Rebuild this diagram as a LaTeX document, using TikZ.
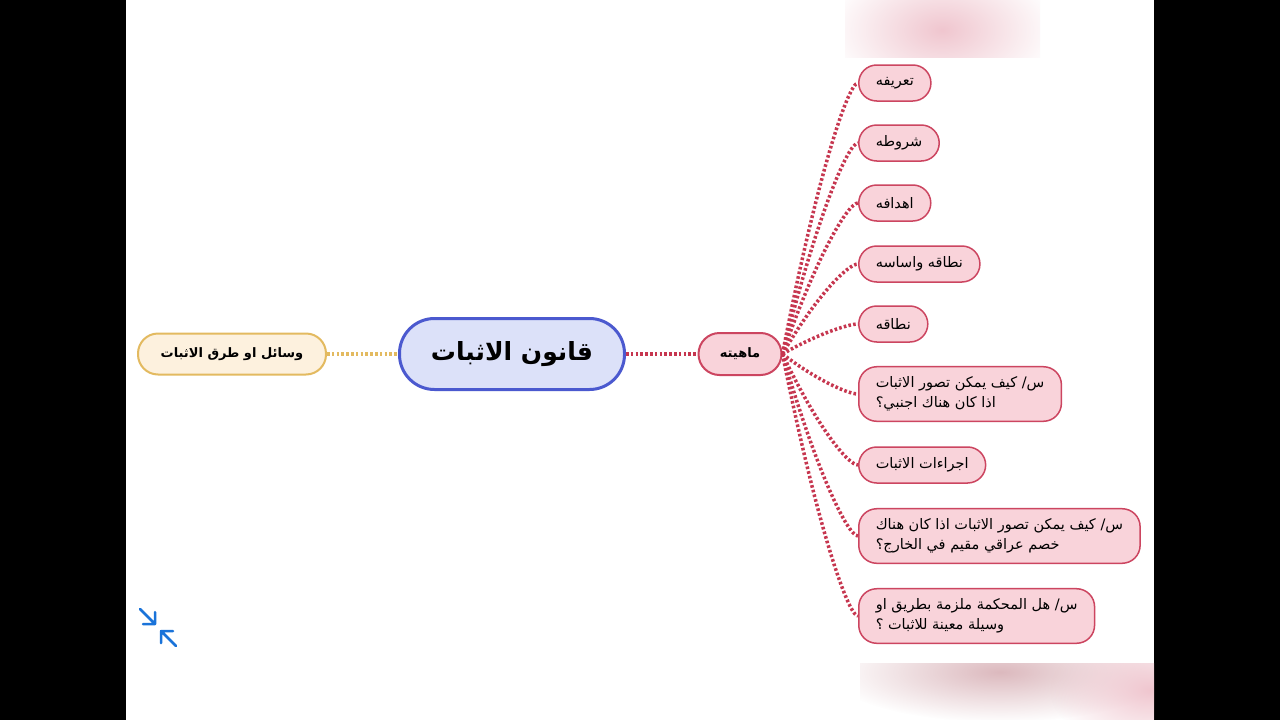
\documentclass[tikz,border=0pt]{standalone}
\usepackage{fontspec}
\usetikzlibrary{calc,fadings}
\newfontfamily\arabicfont[Script=Arabic]{DejaVu Sans}
\TeXXeTstate=1
\definecolor{hred}{HTML}{C6364F}
\definecolor{hpink}{HTML}{F9D3DA}
\definecolor{hpinkline}{HTML}{CC4560}
\definecolor{hblue}{HTML}{4B59CF}
\definecolor{hlav}{HTML}{DCE1F9}
\definecolor{hyellow}{HTML}{E3BA60}
\definecolor{hcream}{HTML}{FDF1DE}
\definecolor{hicon}{HTML}{1A73D9}
\definecolor{hblur}{HTML}{F0C6CF}
\definecolor{hblurb}{HTML}{DCB9BE}
\tikzfading[name=softblur, inner color=transparent!0, outer color=transparent!100]
\tikzset{
  topic/.style={draw=hpinkline, fill=hpink, line width=1.5pt, rounded corners=18pt,
    minimum height=36pt, inner xsep=17pt, inner ysep=10pt, align=left, anchor=west,
    font=\arabicfont\fontsize{14.5}{20}\selectfont},
  link/.style={hred, line width=3.5pt, dash pattern=on 2.6pt off 2.2pt},
}

\begin{document}
\begin{tikzpicture}[x=1pt, y=-1pt]
  % page and blurred corners
  \fill[black] (0,0) rectangle (1280,720);
  \fill[white] (126,0) rectangle (1154,720);
  \begin{scope}
    \clip (845,0) rectangle (1040,57);
    \fill[hblur, path fading=softblur] (942,30) ellipse [x radius=115, y radius=70];
  \end{scope}
  \begin{scope}
    \clip (860,663) rectangle (1154,720);
    \fill[hblurb, path fading=softblur] (1000,672) ellipse [x radius=170, y radius=50];
    \fill[hblur, path fading=softblur] (1150,690) ellipse [x radius=100, y radius=60];
  \end{scope}

  % central topic and its two branches
  \node[draw=hblue, fill=hlav, line width=3pt, rounded corners=35pt, minimum width=225pt,
    minimum height=71pt, font=\arabicfont\bfseries\fontsize{25}{30}\selectfont]
    (law) at (512,354) {\beginR قانون الاثبات\endR};
  \node[draw=hyellow, fill=hcream, line width=2pt, rounded corners=20pt, minimum width=188pt,
    minimum height=41pt, font=\arabicfont\bfseries\fontsize{13}{16}\selectfont]
    (means) at (232,354) {\beginR وسائل او طرق الاثبات\endR};
  \node[draw=hpinkline, fill=hpink, line width=2pt, rounded corners=21pt, minimum width=83pt,
    minimum height=42pt, font=\arabicfont\bfseries\fontsize{13}{16}\selectfont]
    (nature) at (740,354) {\beginR ماهيته\endR};

  % sub topics
  \node[topic] (t1) at (858,83) {\beginR تعريفه\endR};
  \node[topic] (t2) at (858,143) {\beginR شروطه\endR};
  \node[topic] (t3) at (858,203) {\beginR اهدافه\endR};
  \node[topic] (t4) at (858,264) {\beginR نطاقه واساسه\endR};
  \node[topic] (t5) at (858,324) {\beginR نطاقه\endR};
  \node[topic] (t6) at (858,394) {\beginR س/ كيف يمكن تصور الاثبات\endR\\
    \beginR اذا كان هناك اجنبي؟\endR};
  \node[topic] (t7) at (858,465) {\beginR اجراءات الاثبات\endR};
  \node[topic] (t8) at (858,536) {\beginR س/ كيف يمكن تصور الاثبات اذا كان هناك\endR\\
    \beginR خصم عراقي مقيم في الخارج؟\endR};
  \node[topic] (t9) at (858,616) {\beginR س/ هل المحكمة ملزمة بطريق او\endR\\
    \beginR وسيلة معينة للاثبات ؟\endR};

  % links
  \draw[link, hyellow] (means) -- (law);
  \draw[link] (law) -- (nature);
  \foreach \i in {1,...,9}{
    \path ($(nature.east)!0.45!(t\i.west)$) coordinate (ax)
          ($(nature.east)!0.65!(t\i.west)$) coordinate (ay);
    \draw[link] (nature.east) .. controls (ax |- ay) and ($(t\i.west)+(-10,0)$) .. (t\i.west);
  }

  % zoom icon
  \draw[hicon, line width=2.5pt, line cap=round, line join=round]
    (140,609) -- (155,624) (143,624) -- (155,624) -- (155,612)
    (176,646) -- (161,631) (161,643) -- (161,631) -- (173,631);
\end{tikzpicture}
\end{document}
